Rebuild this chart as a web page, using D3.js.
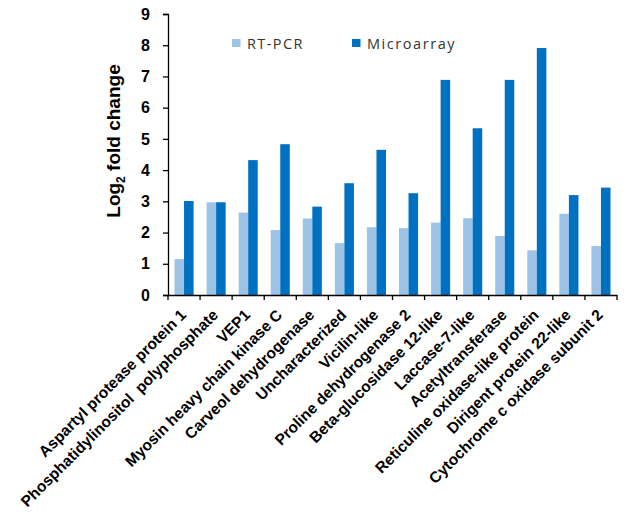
<!DOCTYPE html>
<html><head><meta charset="utf-8">
<script src="https://cdn.jsdelivr.net/npm/d3@7"></script>
<style>body{margin:0;background:#fff}svg{display:block}text{font-family:Arial,"Liberation Sans",sans-serif}</style>
</head><body><svg id="c" width="633" height="517"></svg>
<script>
const categories = ["Aspartyl protease protein 1","Phosphatidylinositol  polyphosphate","VEP1","Myosin heavy chain kinase C","Carveol dehydrogenase","Uncharacterized","Vicilin-like","Proline dehydrogenase 2","Beta-glucosidase 12-like","Laccase-7-like","Acetyltransferase","Reticuline oxidase-like protein","Dirigent protein 22-like","Cytochrome c oxidase subunit 2"];
const seriesNames = ["RT-PCR","Microarray"];
const rtpcr = [1.15,2.97,2.64,2.08,2.45,1.66,2.17,2.14,2.32,2.46,1.89,1.43,2.6,1.57];
const microarray = [3.01,2.97,4.32,4.83,2.83,3.58,4.65,3.26,6.89,5.34,6.89,7.91,3.2,3.44];
const yTicks = [0,1,2,3,4,5,6,7,8,9];
const colors = ["#9dc3e6","#0070c0"];

const svg = d3.select("#c");
const m = {l:168, r:617, t:14, b:295};
const x0 = d3.scaleBand().domain(categories).range([m.l, m.r]).padding(0);
const x1 = d3.scaleBand().domain(seriesNames).range([0, x0.bandwidth()]).paddingInner(0).paddingOuter(0.68);
const y = d3.scaleLinear().domain([0,9]).range([m.b, m.t]);
const data = categories.map((c,i)=>({c, v:[rtpcr[i], microarray[i]]}));

const g = svg.append("g");
g.selectAll("g.grp").data(data).join("g").attr("class","grp")
 .attr("transform", d=>`translate(${x0(d.c)},0)`)
 .selectAll("rect").data(d=>d.v.map((v,j)=>({s:seriesNames[j], v, j})))
 .join("rect")
 .attr("x", d=>x1(d.s)).attr("width", x1.bandwidth())
 .attr("y", d=>y(d.v)).attr("height", d=>y(0)-y(d.v))
 .attr("fill", d=>colors[d.j]);

// Y axis
const ya = svg.append("g").attr("transform",`translate(${m.l},0)`)
 .call(d3.axisLeft(y).tickValues(yTicks).tickSize(5).tickPadding(13).tickFormat(d3.format("d")));
ya.select(".domain").attr("stroke","#000").attr("stroke-width",1.3);
ya.selectAll(".tick line").attr("stroke","#000").attr("stroke-width",1.3);
ya.selectAll(".tick text").attr("font-size",16).attr("font-weight","bold").attr("fill","#000")
 .style("font-family","Arial, 'Liberation Sans', sans-serif");

// X axis
const xa = svg.append("g").attr("transform",`translate(0,${m.b})`)
 .call(d3.axisBottom(x0).tickSize(0).tickFormat(""));
xa.select(".domain").attr("stroke","#000").attr("stroke-width",1.3);
const bounds = categories.map(c=>x0(c)).concat([m.r]);
xa.selectAll("line.sep").data(bounds).join("line").attr("class","sep")
 .attr("x1",d=>d).attr("x2",d=>d).attr("y1",0).attr("y2",5).attr("stroke","#000").attr("stroke-width",1.3);
xa.selectAll("text.lbl").data(categories).join("text").attr("class","lbl")
 .attr("transform", d=>`translate(${x0(d)+x0.bandwidth()/2+3},21) rotate(-45)`)
 .attr("text-anchor","end").attr("font-size",15.5).attr("font-weight","bold").attr("fill","#000")
 .attr("xml:space","preserve").style("white-space","pre")
 .text(d=>d);

// Y title
const yt = svg.append("text").attr("transform","translate(120,141) rotate(-90)")
 .attr("text-anchor","middle").attr("font-size",19).attr("font-weight","bold").attr("fill","#000");
yt.append("tspan").text("Log");
yt.append("tspan").attr("font-size",12).attr("dy",5).text("2");
yt.append("tspan").attr("dy",-5).text(" fold change");

// Legend
const lg = svg.append("g");
const lx = [232, 352];
const lw = [55.5, 87.5];
seriesNames.forEach((s,i)=>{
  lg.append("rect").attr("x",lx[i]).attr("y",39).attr("width",8.5).attr("height",8).attr("fill",colors[i]);
  lg.append("text").attr("x",lx[i]+15).attr("y",49).attr("font-size",14.5).attr("fill","#333")
    .style("font-family","'Open Sans', sans-serif")
    .attr("textLength",lw[i]).attr("lengthAdjust","spacing").text(s);
});
</script></body></html>
